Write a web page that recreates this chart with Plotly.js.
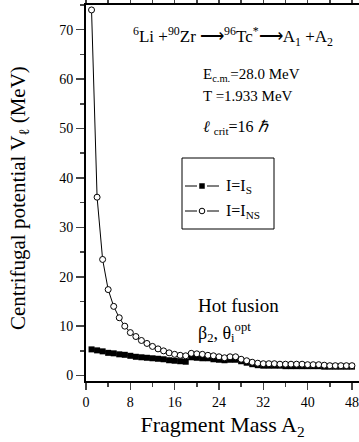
<!DOCTYPE html>
<html>
<head>
<meta charset="utf-8">
<script src="https://cdn.plot.ly/plotly-3.0.1.min.js"></script>
<style>html,body{margin:0;padding:0;background:#fff;}#chart{width:359px;height:442px;}</style>
</head>
<body>
<div id="chart"></div>
<script>
// Fragment mass A2
const massA2 = [1,2,3,4,5,6,7,8,9,10,11,12,13,14,15,16,17,18,19,20,21,22,23,24,25,26,27,28,29,30,31,32,33,34,35,36,37,38,39,40,41,42,43,44,45,46,47,48];
// I = I_S
const vIS = [5.3,5.1,4.9,4.6,4.5,4.3,4.2,4.0,3.8,3.7,3.6,3.5,3.4,3.3,3.1,3.0,2.9,2.8,3.7,3.6,3.5,3.5,3.3,3.2,3.1,3.2,3.2,2.9,2.6,2.3,2.1,2.0,2.0,2.0,2.0,1.9,1.9,1.9,1.9,1.9,1.9,1.9,1.8,1.8,1.8,1.8,1.8,1.8];
// I = I_NS
const vINS = [74.0,36.1,23.5,17.4,14.0,11.7,10.0,8.7,7.9,7.1,6.5,5.9,5.4,5.0,4.6,4.3,4.1,4.0,4.5,4.4,4.3,4.1,4.0,3.8,3.6,3.8,3.8,3.3,3.0,2.7,2.5,2.4,2.4,2.4,2.3,2.3,2.3,2.3,2.3,2.2,2.2,2.2,2.1,2.0,2.0,2.0,2.0,2.0];
const xTicks = [0,8,16,24,32,40,48];
const yTicks = [0,10,20,30,40,50,60,70];
const seriesNames = ['I=I<sub>S</sub>', 'I=I<sub>NS</sub>'];

const FONT = "'Liberation Serif', 'Times New Roman', serif";
const W = 359, H = 442, ML = 86, MR = 0, MT = 5, MB = 61;
const PW = W - ML - MR, PH = H - MT - MB;
const px = v => (v - ML) / PW;
const py = v => (H - MB - v) / PH;

const traces = [
  {x: massA2, y: vIS, name: seriesNames[0], mode: 'lines+markers', type: 'scatter',
   line: {color: '#000', width: 1}, marker: {symbol: 'square', size: 6, color: '#000'}},
  {x: massA2, y: vINS, name: seriesNames[1], mode: 'lines+markers', type: 'scatter',
   line: {color: '#000', width: 1}, marker: {symbol: 'circle', size: 6, color: '#fff', line: {color: '#000', width: 1}}}
];

// legend drawn by hand (box, glyphs, labels)
const legY = [186, 211];
const shapes = [
  {type: 'rect', xref: 'paper', yref: 'paper', x0: px(182), x1: px(274), y0: py(158), y1: py(229), line: {color: '#000', width: 1}, fillcolor: 'rgba(0,0,0,0)'}
];
legY.forEach((yy, i) => {
  shapes.push({type: 'line', xref: 'paper', yref: 'paper', x0: px(185), x1: px(197), y0: py(yy), y1: py(yy), line: {color: '#000', width: 1}});
  shapes.push({type: 'line', xref: 'paper', yref: 'paper', x0: px(207), x1: px(219), y0: py(yy), y1: py(yy), line: {color: '#000', width: 1}});
  if (i === 0) {
    shapes.push({type: 'rect', xref: 'paper', yref: 'paper', x0: px(199.5), x1: px(204.5), y0: py(yy + 2.5), y1: py(yy - 2.5), line: {color: '#000', width: 0.5}, fillcolor: '#000'});
  } else {
    shapes.push({type: 'circle', xref: 'paper', yref: 'paper', x0: px(199.2), x1: px(204.8), y0: py(yy + 2.8), y1: py(yy - 2.8), line: {color: '#000', width: 1}, fillcolor: '#fff'});
  }
});

const ann = (x, y, text, size, extra) => Object.assign({xref: 'paper', yref: 'paper', x: px(x), y: py(y), xanchor: 'left', yanchor: 'middle',
  showarrow: false, text: text, font: {family: FONT, size: size, color: '#000'}}, extra || {});

const annotations = [
  ann(131, 36, '<sup>6</sup>Li +<sup>90</sup>Zr ⟶<sup>96</sup>Tc<sup>*</sup>⟶A<sub>1</sub> +A<sub>2</sub>', 17),
  ann(201, 75, 'E<sub>c.m.</sub>=28.0 MeV', 15),
  ann(201, 96, 'T =1.933 MeV', 15),
  ann(201, 127, '<i>ℓ</i> <sub>crit</sub>=16 <i>ℏ</i>', 16),
  ann(224, legY[0], seriesNames[0], 16),
  ann(224, legY[1], seriesNames[1], 16),
  ann(196, 305, 'Hot fusion', 19),
  ann(196, 332, 'β<sub>2</sub>, θ<sub>i</sub><sup>opt</sup>', 18),
  {xref: 'paper', yref: 'paper', x: px(19), y: py(198), xanchor: 'center', yanchor: 'middle', textangle: -90, showarrow: false,
   text: 'Centrifugal potential V<sub>ℓ</sub> (MeV)', font: {family: FONT, size: 21, color: '#000'}}
];

const layout = {
  width: W, height: H,
  margin: {l: ML, r: MR, t: MT, b: MB},
  paper_bgcolor: '#fff', plot_bgcolor: '#fff',
  font: {family: FONT, color: '#000', size: 14},
  showlegend: false,
  xaxis: {range: [0, 49.27], tickvals: xTicks, ticktext: xTicks.map(String), ticks: 'outside', ticklen: 7, tickwidth: 1.5,
          showline: true, linewidth: 2, linecolor: '#000', mirror: 'ticks', showgrid: false, zeroline: false,
          ticklabeloverflow: 'allow',
          minor: {dtick: 4, tick0: 0, ticks: 'outside', ticklen: 4, tickwidth: 1.5, showgrid: false},
          tickfont: {family: FONT, size: 14},
          title: {text: 'Fragment Mass A<sub>2</sub>', font: {family: FONT, size: 22}, standoff: 8}},
  yaxis: {range: [-1.1, 75], tickvals: yTicks, ticktext: yTicks.map(String), ticks: 'outside', ticklen: 8, tickwidth: 1.5,
          showline: true, linewidth: 2, linecolor: '#000', mirror: false, showgrid: false, zeroline: false,
          minor: {dtick: 5, tick0: 0, ticks: 'outside', ticklen: 4, tickwidth: 1.5, showgrid: false},
          tickfont: {family: FONT, size: 14}},
  shapes: shapes,
  annotations: annotations
};

Plotly.newPlot('chart', traces, layout, {displayModeBar: false, staticPlot: true});
</script>
</body>
</html>
